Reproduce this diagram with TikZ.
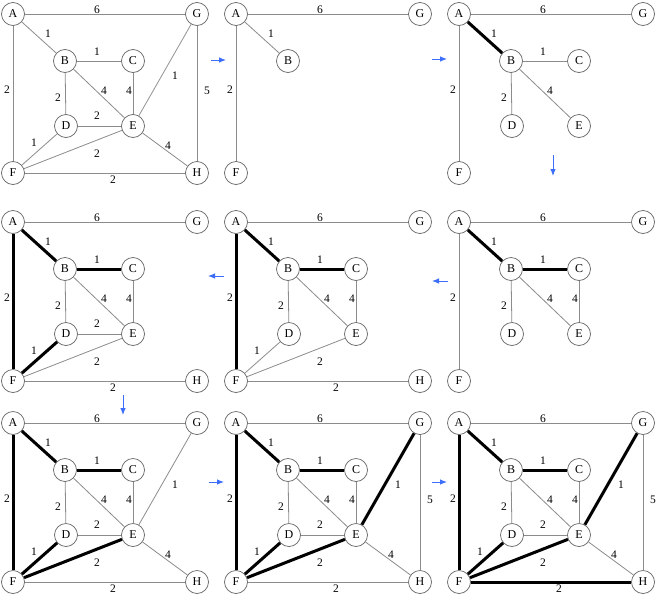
\documentclass[tikz,border=0pt]{standalone}
\usepackage{fontspec}
\setmainfont{Liberation Serif}
\usetikzlibrary{arrows.meta}
\definecolor{arrowblue}{RGB}{60,110,250}
\definecolor{edgegray}{RGB}{140,140,140}
\definecolor{circgray}{RGB}{100,100,100}
% vertex positions (panel-relative, px)
\def\posA{13,14}\def\posG{197,14}\def\posB{65,61}\def\posC{133,61}
\def\posD{66,126}\def\posE{133,126}\def\posF{13,173}\def\posH{197,173}
% edge labels
\def\labAG{\node[lab] (lAG) at (97,10) {6};}
\def\labAB{\node[lab] (lAB) at (48,34) {1};}
\def\labAF{\node[lab] (lAF) at (7,90) {2};}
\def\labBC{\node[lab] (lBC) at (97,52) {1};}
\def\labGE{\node[lab] (lGE) at (175,76) {1};}
\def\labGH{\node[lab] (lGH) at (207,91) {5};}
\def\labBD{\node[lab] (lBD) at (58,98) {2};}
\def\labBE{\node[lab] (lBE) at (104,91) {4};}
\def\labCE{\node[lab] (lCE) at (129,91) {4};}
\def\labDE{\node[lab] (lDE) at (97,116) {2};}
\def\labDF{\node[lab] (lDF) at (34,143) {1};}
\def\labFE{\node[lab] (lFE) at (97,154) {2};}
\def\labEH{\node[lab] (lEH) at (168,146) {4};}
\def\labFH{\node[lab] (lFH) at (113,180) {2};}
\newcommand\Vx[1]{\node[vtx] (#1) at (\csname pos#1\endcsname) {#1};}
\newcommand\Ex[2]{\draw[thinedge] (#1) -- (#2); \csname lab#1#2\endcsname}
\newcommand\Tx[2]{\draw[thickedge] (#1) -- (#2); \csname lab#1#2\endcsname}
\newcommand\panel[6]{%
  \begin{scope}[shift={(#1,#2)}, name prefix=#3-]
    \foreach \n in {#4} {\Vx{\n}}
    \foreach \a/\b in {#5} {\Ex{\a}{\b}}
    \foreach \a/\b in {#6} {\Tx{\a}{\b}}
  \end{scope}}
\begin{document}
\begin{tikzpicture}[x=1pt,y=-1pt,
  vtx/.style={circle,draw=circgray,line width=0.7pt,fill=white,minimum size=23pt,inner sep=0pt,font=\fontsize{12}{12}\selectfont},
  lab/.style={inner sep=0pt,font=\fontsize{11.5}{12}\selectfont},
  thinedge/.style={draw=edgegray,line width=0.8pt},
  thickedge/.style={draw=black,line width=3pt},
  flow/.style={draw=arrowblue,line width=0.9pt,-{Latex[length=7pt,width=5.5pt]}}]
\useasboundingbox[fill=white] (0,0) rectangle (656,600);
% row 1
\panel{0}{0}{p1}{A,G,B,C,D,E,F,H}{A/G,A/B,A/F,B/C,G/E,G/H,B/D,B/E,C/E,D/E,D/F,F/E,E/H,F/H}{}
\panel{223}{0}{p2}{A,G,B,F}{A/G,A/B,A/F}{}
\panel{446}{0}{p3}{A,G,B,C,D,E,F}{A/G,A/F,B/C,B/D,B/E}{A/B}
% row 2
\panel{446}{208}{p4}{A,G,B,C,D,E,F}{A/G,A/F,B/D,B/E,C/E}{A/B,B/C}
\panel{223}{208}{p5}{A,G,B,C,D,E,F,H}{A/G,B/D,B/E,C/E,D/F,F/E,F/H}{A/B,B/C,A/F}
\panel{0}{208}{p6}{A,G,B,C,D,E,F,H}{A/G,B/D,B/E,C/E,D/E,F/E,F/H}{A/B,B/C,A/F,D/F}
% row 3
\panel{0}{409}{p7}{A,G,B,C,D,E,F,H}{A/G,B/D,B/E,C/E,D/E,F/H,G/E,E/H}{A/B,B/C,A/F,D/F,F/E}
\panel{223}{409}{p8}{A,G,B,C,D,E,F,H}{A/G,B/D,B/E,C/E,D/E,E/H,F/H,G/H}{A/B,B/C,A/F,D/F,F/E,G/E}
\panel{446}{409}{p9}{A,G,B,C,D,E,F,H}{A/G,B/D,B/E,C/E,D/E,E/H,G/H}{A/B,B/C,A/F,D/F,F/E,G/E,F/H}
% flow arrows
\coordinate (a1s) at (211,60); \coordinate (a1e) at (226,60);
\coordinate (a2s) at (432,59); \coordinate (a2e) at (447,59);
\coordinate (a3s) at (553,155); \coordinate (a3e) at (553,176);
\coordinate (a4s) at (448,281); \coordinate (a4e) at (432,281);
\coordinate (a5s) at (224,276); \coordinate (a5e) at (208,276);
\coordinate (a6s) at (123,395); \coordinate (a6e) at (123,415);
\coordinate (a7s) at (209,482); \coordinate (a7e) at (224,482);
\coordinate (a8s) at (432,482); \coordinate (a8e) at (447,482);
\foreach \i in {1,...,8} {\draw[flow] (a\i s) -- (a\i e);}
\end{tikzpicture}
\end{document}
